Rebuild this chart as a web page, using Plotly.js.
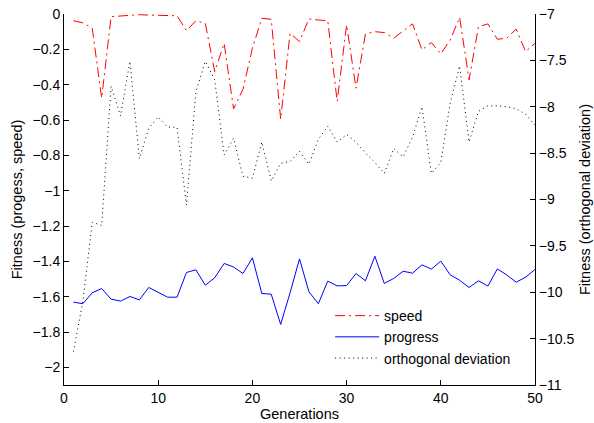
<!DOCTYPE html>
<html>
<head>
<meta charset="utf-8">
<script src="https://cdn.plot.ly/plotly-3.0.1.min.js"></script>
<style>html,body{margin:0;padding:0;background:#fff;}#chart{width:594px;height:423px;}</style>
</head>
<body>
<div id="chart"></div>
<script>
var generations = [];
for (var i = 1; i <= 50; i++) generations.push(i);

var speed = [-0.038,-0.05,-0.081,-0.476,-0.015,-0.01,-0.009,-0.004,-0.006,-0.008,
  -0.008,-0.01,-0.094,-0.038,-0.053,-0.326,-0.166,-0.537,-0.426,-0.194,
  -0.024,-0.03,-0.595,-0.109,-0.156,-0.028,-0.034,-0.038,-0.495,-0.062,
  -0.42,-0.113,-0.1,-0.105,-0.137,-0.094,-0.056,-0.203,-0.162,-0.226,
  -0.147,-0.019,-0.373,-0.072,-0.056,-0.143,-0.137,-0.085,-0.213,-0.166];

var progress = [-1.631,-1.640,-1.578,-1.554,-1.614,-1.625,-1.599,-1.618,-1.548,-1.574,
  -1.603,-1.603,-1.463,-1.448,-1.535,-1.493,-1.412,-1.432,-1.469,-1.380,
  -1.582,-1.586,-1.757,-1.578,-1.386,-1.572,-1.640,-1.512,-1.539,-1.537,
  -1.469,-1.510,-1.371,-1.525,-1.497,-1.456,-1.467,-1.420,-1.444,-1.399,
  -1.477,-1.507,-1.548,-1.510,-1.540,-1.443,-1.477,-1.518,-1.490,-1.446];

var orthogonalDeviation = [-10.64,-10.10,-9.245,-9.28,-7.78,-8.10,-7.51,-8.56,-8.23,-8.11,
  -8.22,-8.22,-9.06,-7.84,-7.51,-7.71,-8.52,-8.34,-8.75,-8.77,
  -8.38,-8.80,-8.61,-8.59,-8.48,-8.62,-8.35,-8.21,-8.38,-8.30,
  -8.38,-8.50,-8.60,-8.72,-8.45,-8.54,-8.33,-8.00,-8.72,-8.60,
  -7.96,-7.56,-8.38,-8.05,-7.99,-7.99,-8.00,-8.02,-8.08,-8.20];

var xTicks = [0,10,20,30,40,50];
var leftTicks = [0,-0.2,-0.4,-0.6,-0.8,-1,-1.2,-1.4,-1.6,-1.8,-2];
var rightTicks = [-7,-7.5,-8,-8.5,-9,-9.5,-10,-10.5,-11];

var fam = 'Liberation Sans, Arial, Helvetica, sans-serif';
var tickFont = {family: fam, size: 14, color: '#000'};
var titleFont = {family: fam, size: 14.5, color: '#000'};

var traces = [
  {x: generations, y: speed, name: 'speed', type: 'scatter', mode: 'lines',
   line: {color: '#ff0000', width: 1, dash: '10px,4px,2px,4px'}, yaxis: 'y'},
  {x: generations, y: progress, name: 'progress', type: 'scatter', mode: 'lines',
   line: {color: '#0000ff', width: 1}, yaxis: 'y'},
  {x: generations, y: orthogonalDeviation, name: 'orthogonal deviation', type: 'scatter', mode: 'lines',
   line: {color: '#000000', width: 1, dash: '1px,3.5px'}, yaxis: 'y2'}
];

var layout = {
  width: 594, height: 423,
  margin: {l: 64, r: 59, t: 14, b: 38},
  paper_bgcolor: '#fff', plot_bgcolor: '#fff',
  font: tickFont,
  showlegend: true,
  legend: {x: 0.565, y: 0.229, xanchor: 'left', yanchor: 'top', bgcolor: 'rgba(0,0,0,0)',
    itemwidth: 44, font: {family: fam, size: 14, color: '#000'}, tracegroupgap: 0},
  xaxis: {range: [0, 50], tickvals: xTicks, ticks: 'inside', ticklen: 5, tickcolor: '#000',
    showline: true, linecolor: '#000', linewidth: 1, showgrid: false, zeroline: false,
    tickfont: tickFont, title: {text: 'Generations', font: titleFont, standoff: 2}},
  yaxis: {range: [-2.1, 0], tickvals: leftTicks, ticks: 'inside', ticklen: 5, tickcolor: '#000',
    showline: true, linecolor: '#000', linewidth: 1, showgrid: false, zeroline: false,
    tickfont: tickFont, title: {text: 'Fitness (progess, speed)', font: titleFont, standoff: 6}},
  yaxis2: {range: [-11, -7], tickvals: rightTicks, overlaying: 'y', side: 'right', ticks: 'inside', ticklen: 5,
    tickcolor: '#000', showline: true, linecolor: '#000', linewidth: 1, showgrid: false, zeroline: false,
    tickfont: tickFont, title: {text: 'Fitness (orthogonal deviation)', font: titleFont, standoff: 6}}
};

Plotly.newPlot('chart', traces, layout, {staticPlot: true, displayModeBar: false});
</script>
</body>
</html>
